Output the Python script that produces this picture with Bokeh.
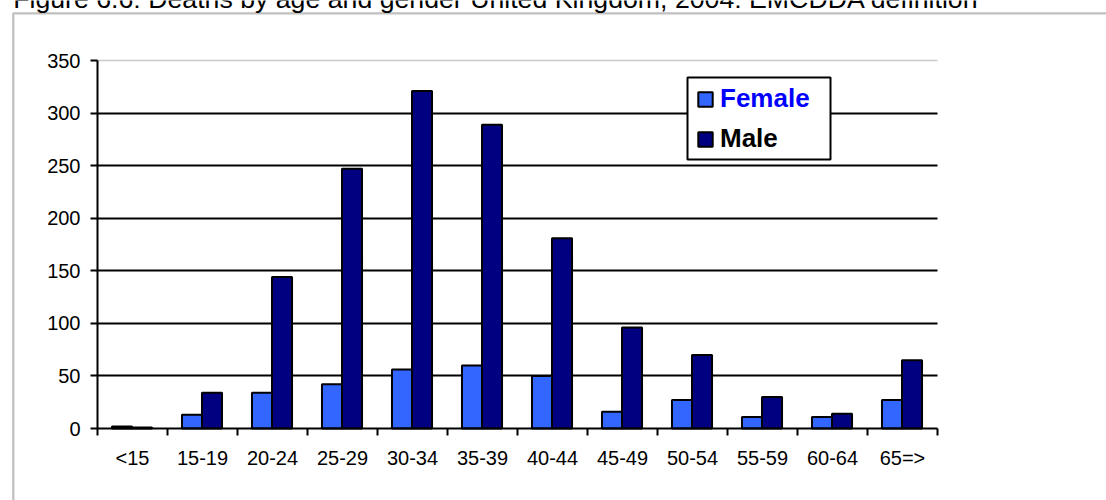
from bokeh.plotting import figure
from bokeh.models import (ColumnDataSource, Range1d, FixedTicker, Grid, Legend, LegendItem,
                          BoxAnnotation, Label)
from bokeh.transform import dodge
from bokeh.embed import file_html
from bokeh.resources import INLINE

# ---- data ----
categories = ["<15", "15-19", "20-24", "25-29", "30-34", "35-39", "40-44",
              "45-49", "50-54", "55-59", "60-64", "65=>"]
female = [2, 13, 34, 42, 56, 60, 50, 16, 27, 11, 11, 27]
male = [1, 34, 144, 247, 321, 289, 181, 96, 70, 30, 14, 65]
y_ticks = [0, 50, 100, 150, 200, 250, 300, 350]
title_text = "Figure 6.6: Deaths by age and gender United Kingdom, 2004: EMCDDA definition"

FONT = "Liberation Sans"
W, H = 1106, 500
n = len(categories)
# plot area in canvas pixels (style)
PX_L, PX_R, PX_T, PX_B = 97, 937, 60, 428
ppx = (PX_R - PX_L) / n
ppy = (PX_B - PX_T) / y_ticks[-1]

centers = [i + 0.5 for i in range(n)]
src = ColumnDataSource(dict(x=centers, female=female, male=male))

p = figure(width=W, height=H,
           x_range=Range1d(-PX_L / ppx, n + (W - PX_R) / ppx),
           y_range=Range1d(-(H - PX_B) / ppy, y_ticks[-1] + PX_T / ppy),
           output_backend="svg", toolbar_location=None,
           min_border_left=0, min_border_right=0, min_border_top=0, min_border_bottom=0)
p.outline_line_color = None
p.background_fill_color = "white"
p.border_fill_color = "white"

rf = p.vbar(x=dodge("x", -0.15), top="female", width=0.286, source=src,
            fill_color="#3366FF", line_color="black", line_width=2)
rm = p.vbar(x=dodge("x", 0.136), top="male", width=0.286, source=src,
            fill_color="#000080", line_color="black", line_width=2)

# grids
p.xgrid.visible = False
p.ygrid.ticker = FixedTicker(ticks=y_ticks[1:-1])
p.ygrid.grid_line_color = "black"
p.ygrid.grid_line_width = 2
p.ygrid.cross_bounds = (0, n)
p.add_layout(Grid(dimension=1, ticker=FixedTicker(ticks=y_ticks[-1:]), cross_bounds=(0, n),
                  grid_line_color="#c8c8c8", grid_line_width=1.5))

# y axis
ya = p.yaxis[0]
ya.fixed_location = 0
ya.bounds = (0, y_ticks[-1])
ya.ticker = FixedTicker(ticks=y_ticks)
ya.axis_line_color = "black"
ya.axis_line_width = 2
ya.major_tick_out = 7
ya.major_tick_in = 0
ya.major_tick_line_width = 2
ya.minor_tick_line_color = None
ya.major_label_standoff = 10
ya.major_label_text_font = FONT
ya.major_label_text_font_size = "20px"
ya.major_label_text_color = "black"

# x axis
xa = p.xaxis[0]
xa.fixed_location = 0
xa.bounds = (0, n)
xa.ticker = FixedTicker(ticks=centers, minor_ticks=list(range(n + 1)))
xa.major_label_overrides = {c: lab for c, lab in zip(centers, categories)}
xa.axis_line_color = "black"
xa.axis_line_width = 2
xa.major_tick_out = 0
xa.major_tick_in = 0
xa.major_tick_line_color = None
xa.minor_tick_out = 7
xa.minor_tick_in = 0
xa.minor_tick_line_color = "black"
xa.minor_tick_line_width = 2
xa.major_label_standoff = 11
xa.major_label_text_font = FONT
xa.major_label_text_font_size = "20px"
xa.major_label_text_color = "black"

# outer chart border (screen px from frame bottom-left)
p.add_layout(BoxAnnotation(left=12.8, right=W + 200, top=H - 12.8, bottom=-200,
                           left_units="screen", right_units="screen",
                           top_units="screen", bottom_units="screen",
                           fill_alpha=0, line_color="#c0c0c0", line_alpha=1, line_width=2.3))

# title (clipped at the top, as in the reference)
p.add_layout(Label(x=12.7, y=H + 1.5, x_units="screen", y_units="screen", text=title_text,
                   text_font=FONT, text_font_size="26.7px", text_color="black",
                   text_baseline="alphabetic", text_align="left"))

# legend box
p.add_layout(BoxAnnotation(left=687, right=830, top=H - 77, bottom=H - 159,
                           left_units="screen", right_units="screen",
                           top_units="screen", bottom_units="screen",
                           fill_color="white", fill_alpha=1, line_color="black",
                           line_alpha=1, line_width=2))

def make_legend(item, color, loc):
    return Legend(items=[item], location=loc, padding=0, margin=0, spacing=0,
                  glyph_width=18, glyph_height=18, label_standoff=6, label_height=18,
                  label_text_font=FONT, label_text_font_size="26px", label_text_font_style="bold",
                  label_text_color=color, border_line_color=None, background_fill_alpha=0)

p.add_layout(make_legend(LegendItem(label="Female", renderers=[rf]), "#0000FF", (696, H - 114)))
p.add_layout(make_legend(LegendItem(label="Male", renderers=[rm]), "black", (696, H - 154)))

open("out.html", "w").write(file_html(p, INLINE))
